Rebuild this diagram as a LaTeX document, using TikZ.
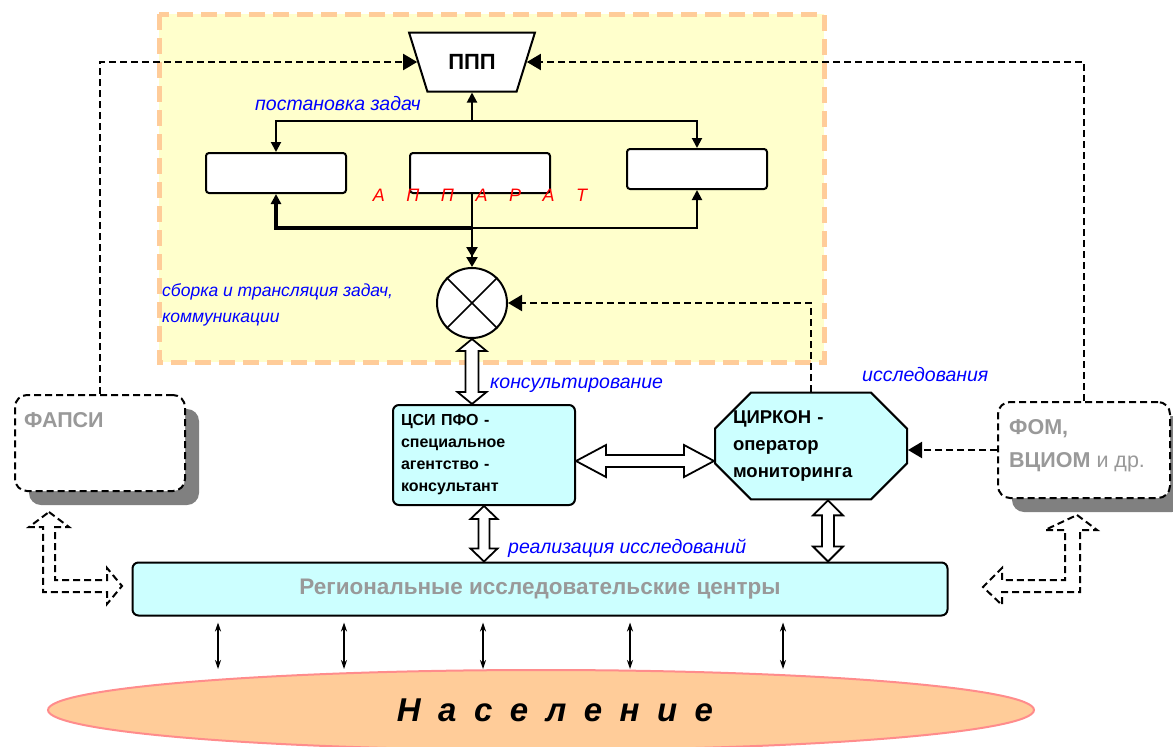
\documentclass[tikz,border=0pt]{standalone}
\usepackage{fontspec}
\setmainfont{Liberation Sans}
\usetikzlibrary{positioning,arrows.meta,shapes.geometric,shapes.misc,shadows,calc}

\definecolor{paleyellow}{HTML}{FFFFCC}
\definecolor{peach}{HTML}{FFCC99}
\definecolor{palecyan}{HTML}{CCFFFF}
\definecolor{greytext}{HTML}{999999}

% hollow double arrow: from, to, shaft half width, head half width, head length
\newcommand{\hollowdbl}[5]{%
  \draw[hollow] let \p1=(#1), \p2=(#2), \n1={atan2(\y2-\y1,\x2-\x1)}, \n2={veclen(\x2-\x1,\y2-\y1)} in
    [shift={(\p1)}, rotate=\n1]
    (0pt,0pt) -- (#5pt,#4pt) -- (#5pt,#3pt) -- ({\n2-#5pt},#3pt) -- ({\n2-#5pt},#4pt) -- (\n2,0pt)
    -- ({\n2-#5pt},-#4pt) -- ({\n2-#5pt},-#3pt) -- (#5pt,-#3pt) -- (#5pt,-#4pt) -- cycle;}

\begin{document}
\begin{tikzpicture}[x=1pt,y=-1pt]
	\tikzstyle{whitebox} = [draw=black, line width=2pt, fill=white, rounded corners=3pt, minimum width=140pt, minimum height=40pt]
	\tikzstyle{cyanbox} = [draw=black, line width=2pt, fill=palecyan, rounded corners=6pt]
	\tikzstyle{ghostbox} = [draw=black, line width=2pt, dash pattern=on 7pt off 4pt, rounded corners=12pt, fill=white, drop shadow={shadow xshift=14pt, shadow yshift=-14pt, fill=gray, opacity=1}, minimum height=96pt]
	\tikzstyle{bluelabel} = [anchor=west, inner sep=0pt, text=blue, font=\itshape\fontsize{19.5}{24}\selectfont]
	\tikzstyle{greylabel} = [anchor=west, inner sep=0pt, text=greytext, align=left, font=\bfseries\fontsize{21.5}{33}\selectfont]
	\tikzstyle{hollow} = [draw=black, line width=1.8pt, fill=white, line join=miter]
	\tikzstyle{dashhollow} = [hollow, line width=2pt, dash pattern=on 7pt off 4pt]
	\tikzstyle{taskline} = [draw=black, line width=2pt, -{Triangle[length=10pt,width=10pt]}]
	\tikzstyle{dasharrow} = [draw=black, line width=2pt, dash pattern=on 7pt off 4pt, -{Triangle[length=14pt,width=16pt]}]
	\tikzstyle{popline} = [draw=black, line width=1.2pt, shorten <=6pt, {Stealth[length=9pt,width=6pt]}-{Stealth[length=9pt,width=6pt]}]

	\useasboundingbox (0,0) rectangle (1173,747);

	% apparatus area
	\draw[fill=paleyellow, draw=peach, line width=5pt, dash pattern=on 16pt off 8pt] (159,14) rectangle (824,362);

	\node (ppp) at (472,62) [trapezium, trapezium angle=63, shape border rotate=180, trapezium stretches=true, minimum width=126pt, minimum height=59pt, draw=black, line width=2pt, fill=white, font=\bfseries\fontsize{22}{22}\selectfont] {ППП};
	\node (lbox) at (276,173) [whitebox] {};
	\node (mbox) at (480,173) [whitebox] {};
	\node (rbox) at (697,169) [whitebox] {};
	\node (mix) at (472,303) [circle, draw=black, line width=2pt, fill=white, minimum size=70pt] {};
	\draw[line width=1.6pt] (mix.45) -- (mix.225) (mix.135) -- (mix.315);
	\coordinate (split) at (472,121);
	\coordinate (merge) at (472,228);

	\node (csi) at (484,455) [cyanbox, minimum width=182pt, minimum height=100pt, text width=166pt, align=left, font=\bfseries\fontsize{16}{22}\selectfont] {ЦСИ ПФО -\\специальное\\агентство -\\консультант};
	\node (cirk) at (811,446) [chamfered rectangle, chamfered rectangle xsep=18pt, chamfered rectangle ysep=18pt, inner sep=0pt, draw=black, line width=2pt, fill=palecyan, text width=156pt, align=left, font=\bfseries\fontsize{18.5}{27}\selectfont] {ЦИРКОН -\\оператор\\мониторинга};
	\node (ric) at (540,589) [cyanbox, minimum width=815pt, minimum height=53pt, text=greytext, font=\bfseries\fontsize{22.5}{22.5}\selectfont] {Региональные исследовательские центры};

	\node (fapsi) at (100,443) [ghostbox, minimum width=170pt] {};
	\node[greylabel] (fapsiname) at (24,420) {ФАПСИ};
	\node (fom) at (1084,450) [ghostbox, minimum width=172pt] {};
	\node[greylabel] (fomname) at (1009,446) {ФОМ,\\ВЦИОМ {\mdseries и др.}};

	\node (pop) at (541,710) [ellipse, minimum width=986pt, minimum height=80pt, fill=peach, draw=red!45, line width=2pt, font=\bfseries\itshape\fontsize{33}{33}\selectfont] {\hspace{28pt}Н\hspace{17.5pt}а\hspace{17.5pt}с\hspace{17.5pt}е\hspace{17.5pt}л\hspace{17.5pt}е\hspace{17.5pt}н\hspace{17.5pt}и\hspace{17.5pt}е};

	%tasks
	\draw[taskline] (split) -- (ppp.270);
	\draw[taskline] (split) -| (lbox.north);
	\draw[taskline] (split) -| (rbox.north);
	\draw[taskline, line width=3.5pt] (merge) -| (lbox.south);
	\draw[taskline] (merge) -| (rbox.south);
	\draw[draw=black, line width=2.5pt, -{Triangle[length=10pt,width=11pt]Triangle[length=10pt,width=11pt]}] (mix.north |- mbox.south) -- (mix.north);

	%monitoring
	\draw[dasharrow] (fapsi.north) |- (ppp.180);
	\draw[dasharrow] (fom.north) |- (ppp.0);
	\draw[dasharrow] (cirk.north) |- (mix.0);
	\draw[dasharrow] (fom.west) -- (fom.west -| cirk.east);

	%hollow arrows
	\hollowdbl{mix.south}{mix.south |- csi.north}{6.5}{14.5}{12}
	\hollowdbl{csi.east |- 0,461}{cirk.west |- 0,461}{6}{16}{30}
	\hollowdbl{csi.south}{csi.south |- ric.north}{5.5}{13.5}{13}
	\hollowdbl{cirk.south -| 828,0}{828,0 |- ric.north}{6}{15}{15}
	\draw[dashhollow] (49,512) -- (69,527) -- (55,527) -- (55,580) -- (107,580) -- (107,568) -- (122,586) -- (107,604) -- (107,592) -- (43,592) -- (43,527) -- (29,527) -- cycle;
	\draw[dashhollow] (1077,515) -- (1097,530) -- (1080,530) -- (1080,592) -- (1002,592) -- (1002,605) -- (983,587) -- (1002,568) -- (1002,580) -- (1065,580) -- (1065,530) -- (1045,530) -- cycle;

	%population
	\foreach \x in {218,344,483,630,783}
		\draw[popline] (\x,0 |- ric.south) -- (\x,0 |- pop.north);

	%labels
	\node[bluelabel] (tasks) at (255,104) {постановка задач};
	\node (apparat) at (480,195) [text=red, font=\itshape\fontsize{18}{18}\selectfont] {А\hspace{21.5pt}П\hspace{21.5pt}П\hspace{21.5pt}А\hspace{21.5pt}Р\hspace{21.5pt}А\hspace{21.5pt}Т};
	\node[bluelabel, align=left, font=\itshape\fontsize{17.5}{26}\selectfont] (assembly) at (162,305) {сборка и трансляция задач,\\коммуникации};
	\node[bluelabel] (consult) at (490,385) {консультирование};
	\node[bluelabel] (research) at (862,375) {исследования};
	\node[bluelabel] (realize) at (508,548) {реализация исследований};
\end{tikzpicture}
\end{document}
